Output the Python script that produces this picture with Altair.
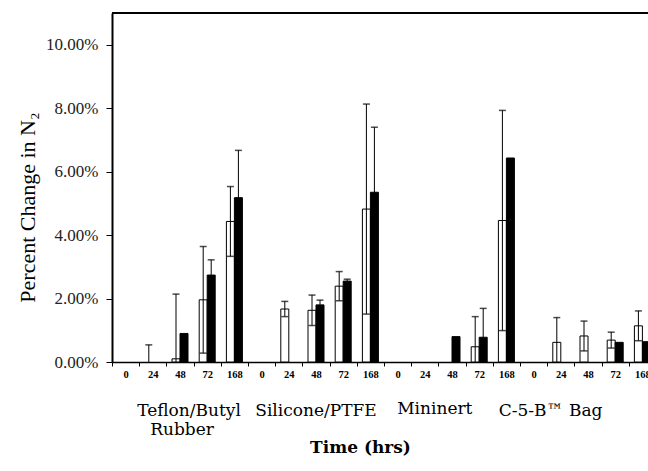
import altair as alt
import pandas as pd

# ---------------- data ----------------
GROUP_KEYS = ["Teflon", "Silicone", "Mininert", "C5B"]
TIMES = ["0", "24", "48", "72", "168"]
SERIES = ["open", "filled"]

# percent change in N2 (in %), group-major order, times 0,24,48,72,168
OPEN_MEAN = [0.00, 0.00, 0.10, 1.96, 4.43,
             0.00, 1.67, 1.63, 2.39, 4.82,
             0.00, 0.00, 0.00, 0.48, 4.46,
             0.00, 0.62, 0.82, 0.69, 1.14]
OPEN_ERR = [0.00, 0.54, 2.04, 1.68, 1.10,
            0.00, 0.24, 0.48, 0.46, 3.31,
            0.00, 0.00, 0.00, 0.95, 3.47,
            0.00, 0.78, 0.47, 0.25, 0.47]
FILLED_MEAN = [0.00, 0.00, 0.90, 2.74, 5.18,
               0.00, 0.00, 1.80, 2.55, 5.35,
               0.00, 0.00, 0.80, 0.78, 6.43,
               0.00, 0.00, 0.00, 0.62, 0.64]
FILLED_ERR = [0.00, 0.00, 0.00, 0.48, 1.49,
              0.00, 0.00, 0.15, 0.06, 2.05,
              0.00, 0.00, 0.00, 0.91, 0.00,
              0.00, 0.00, 0.00, 0.00, 0.00]

GROUP_LABELS = ["Teflon/Butyl", "Rubber", "Silicone/PTFE", "Mininert", "C-5-B\u2122 Bag"]
LABEL_ANCHORS = ["Teflon|48", "Teflon|48", "Silicone|48", "Mininert|24", "C5B|0"]

CATS = [f"{g}|{t}" for g in GROUP_KEYS for t in TIMES]

rows = []
for series, means, errs in (("open", OPEN_MEAN, OPEN_ERR), ("filled", FILLED_MEAN, FILLED_ERR)):
    for cat, m, e in zip(CATS, means, errs):
        rows.append({"cat": cat, "series": series,
                     "mean": m / 100.0, "err": e / 100.0,
                     "low": max(m - e, 0) / 100.0, "high": (m + e) / 100.0,
                     "rawlow": (m - e) / 100.0})
df = pd.DataFrame(rows)

# ---------------- encodings ----------------
x_axis = alt.Axis(
    title="Time (hrs)",
    labelExpr="split(datum.label, '|')[1]",
    labelAngle=0,
    labelOverlap=False,
    tickBand="extent",
    domainColor="black", domainWidth=1.5,
    tickColor="black", tickSize=4, tickWidth=1,
    labelFont="Liberation Serif", labelFontWeight="bold", labelFontSize=10.5,
    labelColor="black", labelPadding=3,
    titleFont="DejaVu Serif", titleFontWeight="bold", titleFontSize=17,
    titleColor="black", titleX=248, titleY=85, titleBaseline="middle",
)
x_scale = alt.Scale(domain=CATS, range=[0, 544], paddingInner=0, paddingOuter=0)

y_axis = alt.Axis(
    title="Percent Change in N\u2082",
    format=".2%",
    values=[0, 0.02, 0.04, 0.06, 0.08, 0.10],
    grid=False,
    domainColor="black", domainWidth=2,
    tickColor="black", tickSize=6, tickWidth=1,
    labelFont="Liberation Serif", labelFontSize=17, labelColor="#222",
    labelPadding=8,
    titleFont="Liberation Serif", titleFontSize=22, titleFontWeight="normal",
    titleColor="black", titleX=-85, titleY=194, titleBaseline="middle",
)
y_scale = alt.Scale(domain=[0, 0.11], nice=False)

X = alt.X("cat:N", scale=x_scale, axis=x_axis, sort=CATS)
XOFF = alt.XOffset("series:N", scale=alt.Scale(domain=SERIES, paddingOuter=0.7, paddingInner=0))

base = alt.Chart(df)

bars = base.transform_filter("datum.mean > 0").mark_bar(stroke="black", strokeWidth=1).encode(
    x=X, xOffset=XOFF,
    y=alt.Y("mean:Q", scale=y_scale, axis=y_axis),
    fill=alt.Fill("series:N", scale=alt.Scale(domain=SERIES, range=["white", "black"]), legend=None),
)

err_line = base.transform_filter("datum.err > 0").mark_rule(color="black", strokeWidth=1).encode(
    x=X, xOffset=XOFF,
    y=alt.Y("low:Q", scale=y_scale, axis=y_axis),
    y2="high:Q",
)

cap_top = base.transform_filter("datum.err > 0").mark_tick(color="black", thickness=1.5, size=7).encode(
    x=X, xOffset=XOFF,
    y=alt.Y("high:Q", scale=y_scale, axis=y_axis),
)

cap_low = base.transform_filter("datum.err > 0 && datum.rawlow > 0").mark_tick(
    color="black", thickness=1.5, size=7).encode(
    x=X, xOffset=XOFF,
    y=alt.Y("low:Q", scale=y_scale, axis=y_axis),
)

top_border = alt.Chart(pd.DataFrame({"v": [0.11]})).mark_rule(color="black", strokeWidth=2).encode(
    y=alt.Y("v:Q", scale=y_scale, axis=y_axis),
)

lab_df = pd.DataFrame({"cat": LABEL_ANCHORS, "text": GROUP_LABELS})
label_dx = [9, 2, 0, 10, 17]
label_y = [398, 417, 398, 396, 398]
label_layers = []
for i in range(len(GROUP_LABELS)):
    label_layers.append(
        alt.Chart(lab_df.iloc[[i]]).mark_text(
            font="DejaVu Serif", fontSize=17, color="black", dx=label_dx[i]
        ).encode(x=X, y=alt.value(label_y[i]), text="text:N")
    )

chart = alt.layer(bars, err_line, cap_top, cap_low, top_border, *label_layers).properties(
    width=536, height=349,
    autosize=alt.AutoSizeParams(type="none"),
    padding={"left": 112, "top": 13, "right": 0, "bottom": 109},
).configure_view(strokeWidth=0).configure(background="white")

chart.save("out.html", embed_options={"renderer": "svg", "actions": False})
